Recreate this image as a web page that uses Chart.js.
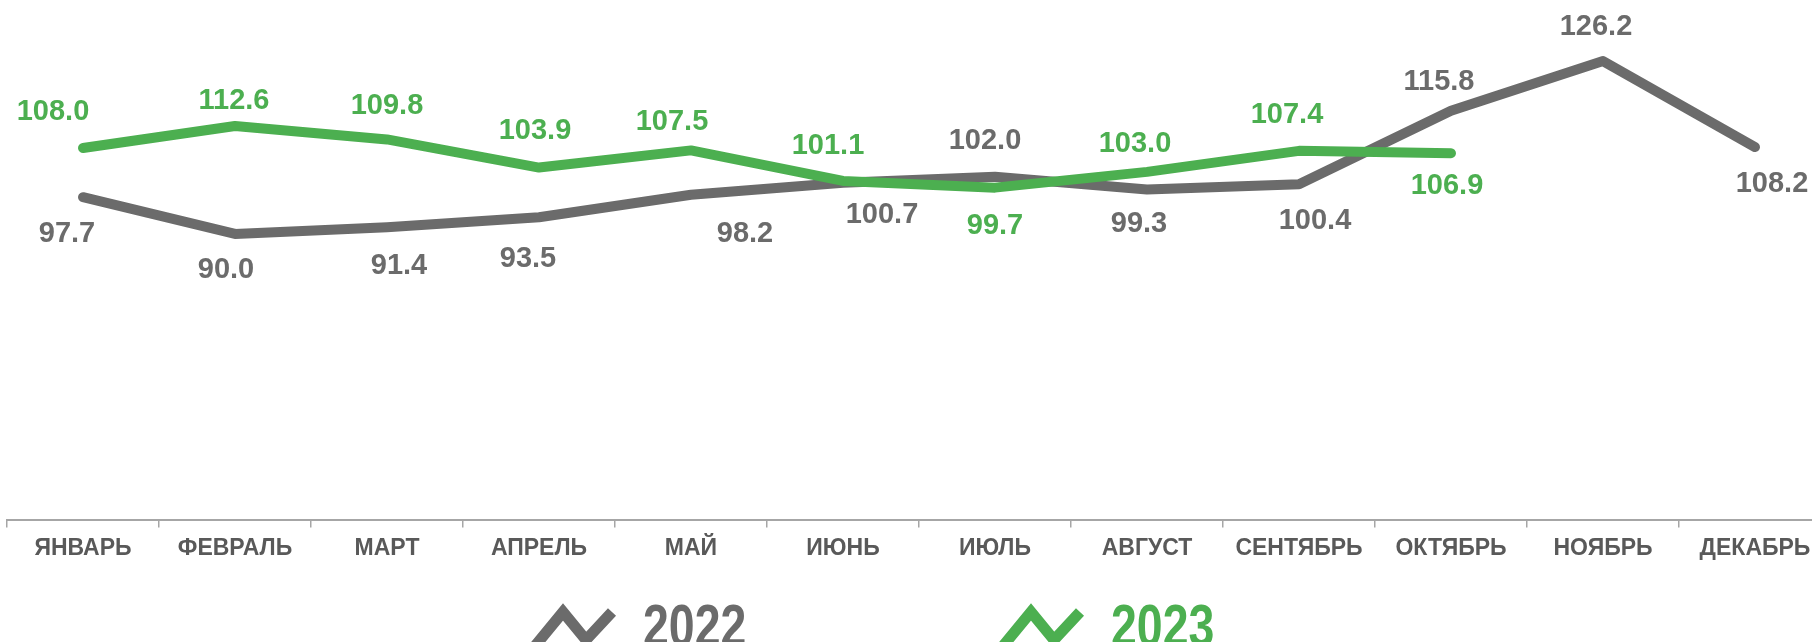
<!DOCTYPE html>
<html>
<head>
<meta charset="utf-8">
<script src="https://cdn.jsdelivr.net/npm/chart.js@4/dist/chart.umd.min.js"></script>
<style>
  html, body { margin: 0; padding: 0; background: #fff; overflow: hidden; }
  #wrap { position: relative; width: 1838px; height: 680px; }
</style>
</head>
<body>
<div id="wrap"><canvas id="plot-data"></canvas></div>
<script>
const months = ['ЯНВАРЬ', 'ФЕВРАЛЬ', 'МАРТ', 'АПРЕЛЬ', 'МАЙ', 'ИЮНЬ', 'ИЮЛЬ', 'АВГУСТ', 'СЕНТЯБРЬ', 'ОКТЯБРЬ', 'НОЯБРЬ', 'ДЕКАБРЬ'];
const values2022 = [97.7, 90.0, 91.4, 93.5, 98.2, 100.7, 102.0, 99.3, 100.4, 115.8, 126.2, 108.2];
const values2023 = [108.0, 112.6, 109.8, 103.9, 107.5, 101.1, 99.7, 103.0, 107.4, 106.9];
const seriesNames = ['2022', '2023'];

// label placement (dx, dy from the point, px) - set by hand like in the original
const labelShift2022 = [[-16, 37], [-9, 36], [12, 39], [-11, 42], [54, 39], [39, 32], [-10, -36], [-8, 34], [16, 37], [-12, -29], [-7, -34], [17, 37]];
const labelShift2023 = [[-30, -36], [-1, -25], [0, -33], [-4, -37], [-19, -28], [-15, -35], [0, 38], [-12, -28], [-12, -36], [-4, 33]];

const GREY = '#6b6b6b';
const GREEN = '#4caf50';

const pointLabels = {
    id: 'pointLabels',
    afterDatasetsDraw(chart) {
        const ctx = chart.ctx;
        ctx.save();
        ctx.font = 'bold 29px "Liberation Sans", Arial, sans-serif';
        ctx.textAlign = 'center';
        ctx.textBaseline = 'middle';
        chart.data.datasets.forEach((ds, di) => {
            const meta = chart.getDatasetMeta(di);
            meta.data.forEach((pt, i) => {
                const sh = ds.labelShift[i] || [0, -30];
                ctx.fillStyle = ds.borderColor;
                ctx.fillText(ds.data[i].toFixed(1), pt.x + sh[0], pt.y + sh[1]);
            });
        });
        ctx.restore();
    }
};

// legend: zigzag line sign + year, drawn under the axis
const zigzagLegend = {
    id: 'zigzagLegend',
    afterDraw(chart) {
        const ctx = chart.ctx;
        const startX = [532, 1000];
        const shape = [[3, 646], [31, 612], [54, 640], [80, 612]];
        chart.data.datasets.forEach((ds, di) => {
            const x0 = startX[di];
            ctx.save();
            ctx.strokeStyle = ds.borderColor;
            ctx.lineWidth = 11;
            ctx.lineJoin = 'miter';
            ctx.lineCap = 'butt';
            ctx.beginPath();
            shape.forEach((p, k) => {
                if (k === 0) ctx.moveTo(x0 + p[0], p[1]);
                else ctx.lineTo(x0 + p[0], p[1]);
            });
            ctx.stroke();
            // narrow bold face is not installed, squeeze the normal one
            ctx.translate(x0 + 111, 646);
            ctx.scale(0.83, 1.05);
            ctx.fillStyle = ds.borderColor;
            ctx.font = 'bold 56px "Liberation Sans", Arial, sans-serif';
            ctx.textAlign = 'left';
            ctx.textBaseline = 'alphabetic';
            ctx.fillText(ds.label, 0, 0);
            ctx.restore();
        });
    }
};

const ctx = document.getElementById('plot-data').getContext('2d');
const graph = new Chart(ctx, {
    type: 'line',
    data: {
        labels: months,
        datasets: [{
            label: seriesNames[0],
            data: values2022,
            borderColor: GREY,
            borderWidth: 10,
            borderCapStyle: 'round',
            borderJoinStyle: 'round',
            pointRadius: 0,
            tension: 0,
            order: 1,
            labelShift: labelShift2022
        }, {
            label: seriesNames[1],
            data: values2023,
            borderColor: GREEN,
            borderWidth: 10,
            borderCapStyle: 'round',
            borderJoinStyle: 'round',
            pointRadius: 0,
            tension: 0,
            order: 0,
            labelShift: labelShift2023
        }]
    },
    options: {
        responsive: true,
        maintainAspectRatio: false,
        animation: false,
        layout: { padding: { left: 7, right: 7, top: 0, bottom: 111 } },
        plugins: {
            legend: { display: false },
            tooltip: { enabled: false }
        },
        scales: {
            x: {
                offset: true,
                border: { display: true, color: '#a6a6a6', width: 2 },
                grid: { offset: true, drawOnChartArea: false, drawTicks: true, tickLength: 7, color: '#a6a6a6', lineWidth: 1.5 },
                ticks: {
                    color: '#595959',
                    padding: 7,
                    maxRotation: 0,
                    autoSkip: false,
                    font: { family: '"Liberation Sans", Arial, sans-serif', size: 23, weight: 'bold' }
                }
            },
            y: {
                display: false,
                min: 30,
                max: 139
            }
        }
    },
    plugins: [pointLabels, zigzagLegend]
});
</script>
</body>
</html>
